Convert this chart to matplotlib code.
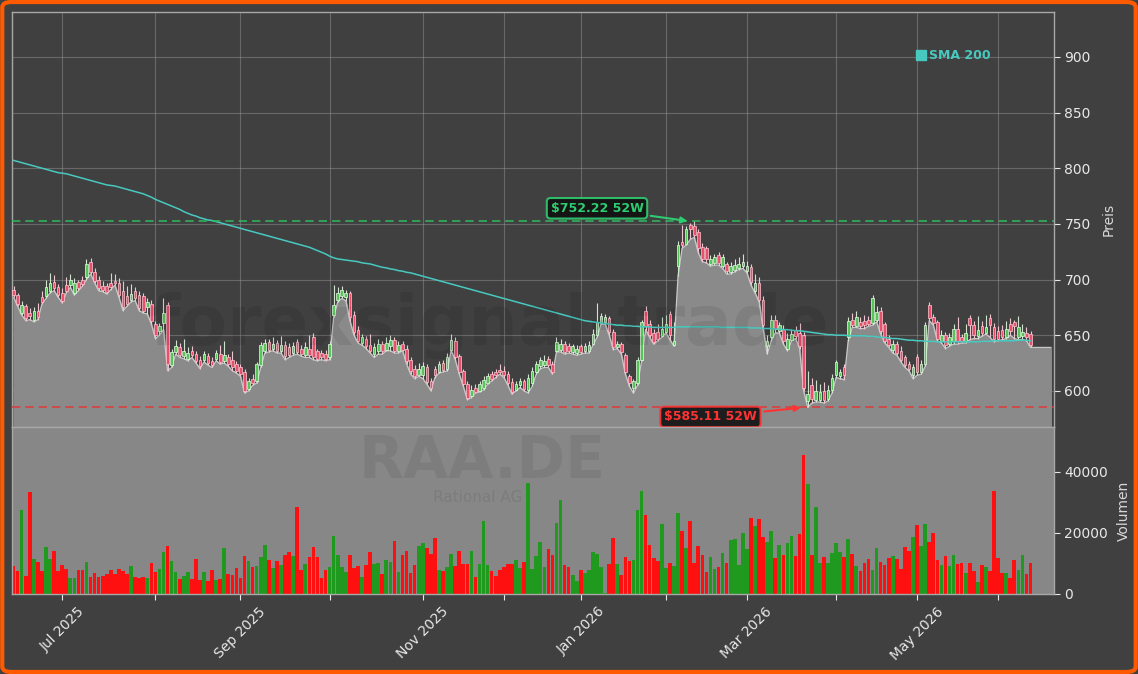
import numpy as np
import pandas as pd
import matplotlib
matplotlib.use("Agg")
import matplotlib.pyplot as plt
from matplotlib.patches import FancyBboxPatch
from matplotlib.lines import Line2D

# ---------------- data ----------------
start_date = "2025-06-13"
holidays = ["2025-12-24", "2025-12-25", "2025-12-26", "2025-12-31",
            "2026-01-01", "2026-04-03", "2026-04-06", "2026-05-01"]

opens = [691, 686, 670, 676, 670, 664, 672, 684, 685, 690,
         698, 693, 688, 695, 695, 688, 698, 700, 702, 716,
         707, 700, 694, 694, 697, 699, 697, 690, 685, 682,
         690, 686, 685, 675, 678, 660, 654, 661, 677, 623,
         635, 639, 631, 629, 636, 633, 628, 628, 631, 627,
         629, 633, 627, 630, 628, 624, 621, 617, 602, 611,
         609, 623, 636, 644, 638, 643, 636, 641, 639, 634,
         644, 638, 632, 638, 648, 636, 634, 633, 630, 668,
         682, 685, 684, 688, 668, 655, 643, 647, 641, 633,
         636, 642, 637, 640, 646, 636, 642, 638, 628, 620,
         614, 614, 621, 609, 620, 617, 625, 620, 637, 645,
         631, 618, 606, 595, 603, 600, 603, 607, 615, 617,
         619, 618, 615, 608, 601, 605, 609, 601, 607, 617,
         622, 623, 629, 624, 636, 637, 642, 640, 635, 634,
         640, 636, 636, 642, 650, 661, 662, 665, 653, 639,
         642, 632, 613, 603, 607, 628, 672, 660, 652, 653,
         649, 653, 669, 641, 712, 734, 732, 749, 748, 743,
         729, 728, 714, 715, 722, 712, 714, 707, 709, 710,
         712, 708, 711, 690, 697, 682, 640, 648, 664, 654,
         656, 638, 646, 655, 652, 650, 591, 605, 592, 592,
         600, 593, 601, 614, 613, 621, 648, 664, 658, 662,
         663, 664, 661, 664, 672, 660, 647, 637, 642, 636,
         630, 624, 614, 630, 617, 624, 677, 666, 662, 645,
         650, 642, 645, 656, 648, 645, 665, 659, 649, 658,
         652, 665, 657, 654, 655, 648, 660, 662, 648, 649,
         652, 651]

highs = [694, 688, 681, 678, 674, 675, 679, 690, 700, 706,
         704, 696, 692, 702, 705, 701, 700, 703, 718, 719,
         710, 703, 699, 697, 706, 705, 701, 699, 694, 696,
         693, 690, 688, 683, 682, 663, 661, 683, 680, 638,
         646, 643, 647, 639, 640, 636, 631, 636, 634, 630,
         637, 641, 645, 633, 636, 627, 624, 620, 612, 615,
         626, 644, 647, 647, 648, 646, 649, 645, 643, 644,
         647, 641, 644, 650, 652, 638, 637, 637, 645, 695,
         693, 694, 691, 690, 672, 658, 651, 649, 651, 643,
         647, 645, 648, 650, 648, 645, 645, 641, 630, 623,
         625, 626, 624, 612, 622, 627, 628, 634, 651, 648,
         633, 620, 609, 605, 606, 609, 613, 616, 618, 620,
         624, 622, 618, 612, 609, 612, 611, 615, 621, 627,
         630, 632, 631, 627, 648, 647, 645, 643, 642, 641,
         642, 643, 645, 656, 679, 670, 669, 667, 656, 645,
         644, 634, 615, 611, 630, 664, 676, 664, 656, 660,
         666, 668, 672, 662, 735, 749, 748, 751, 752.22, 745,
         733, 730, 722, 723, 725, 723, 716, 716, 718, 720,
         723, 717, 714, 705, 702, 685, 650, 668, 668, 662,
         659, 652, 656, 658, 661, 653, 618, 612, 610, 606,
         608, 605, 615, 628, 620, 624, 666, 670, 672, 666,
         668, 667, 686, 676, 675, 662, 650, 646, 645, 640,
         632, 627, 624, 633, 628, 662, 680, 669, 664, 655,
         653, 652, 660, 666, 651, 660, 668, 663, 667, 663,
         668, 669, 661, 658, 659, 663, 665, 664, 667, 660,
         657, 654]

lows = [684, 676, 668, 663, 664, 662, 664, 678, 683, 688,
        690, 684, 679, 688, 693, 686, 690, 694, 700, 705,
        697, 690, 689, 687, 691, 695, 684, 672, 676, 680,
        681, 672, 670, 669, 660, 647, 650, 655, 618, 621,
        633, 630, 629, 627, 630, 625, 620, 626, 623, 621,
        627, 624, 625, 622, 618, 616, 613, 598, 600, 605,
        607, 621, 634, 635, 636, 634, 634, 628, 630, 632,
        633, 631, 630, 630, 628, 627, 628, 627, 628, 666,
        680, 683, 681, 663, 650, 643, 641, 638, 634, 630,
        633, 633, 636, 636, 634, 634, 636, 624, 615, 611,
        613, 611, 606, 600, 612, 616, 617, 618, 636, 628,
        615, 604, 592, 594, 598, 599, 601, 606, 609, 612,
        615, 612, 605, 597, 600, 603, 600, 598, 604, 615,
        620, 621, 621, 615, 635, 635, 633, 634, 633, 632,
        633, 634, 634, 641, 648, 660, 660, 650, 637, 638,
        633, 615, 604, 598, 605, 627, 655, 648, 642, 645,
        648, 652, 646, 640, 703, 728, 731, 736, 738, 724,
        716, 715, 712, 713, 713, 710, 705, 705, 707, 709,
        710, 706, 695, 688, 680, 656, 633, 645, 652, 652,
        642, 636, 645, 647, 638, 600, 585.11, 589, 590, 590,
        589, 591, 598, 612, 611, 610, 645, 657, 657, 656,
        656, 658, 659, 662, 651, 643, 639, 634, 632, 626,
        621, 618, 611, 614, 615, 622, 663, 659, 645, 643,
        638, 640, 642, 642, 643, 643, 646, 647, 647, 649,
        651, 648, 644, 645, 646, 647, 650, 647, 646, 646,
        645, 639]

closes = [686, 678, 677, 665, 667, 672, 666, 680, 693, 697,
          692, 686, 681, 690, 700, 697, 692, 696, 714, 707,
          699, 692, 691, 689, 693, 697, 686, 675, 678, 687,
          683, 674, 672, 680, 663, 650, 658, 670, 624, 635,
          640, 632, 636, 634, 632, 627, 622, 633, 625, 623,
          634, 626, 632, 624, 621, 618, 615, 600, 609, 607,
          624, 641, 643, 637, 642, 636, 641, 631, 632, 640,
          635, 633, 639, 632, 630, 629, 630, 629, 642, 677,
          688, 691, 688, 666, 653, 645, 648, 640, 636, 639,
          642, 636, 643, 646, 636, 641, 637, 627, 618, 613,
          620, 622, 608, 603, 614, 624, 619, 630, 646, 630,
          617, 606, 594, 601, 599, 606, 610, 613, 611, 614,
          617, 614, 607, 599, 606, 609, 602, 612, 618, 624,
          628, 627, 623, 617, 644, 642, 635, 636, 640, 638,
          635, 640, 641, 651, 662, 667, 666, 653, 639, 642,
          635, 617, 607, 609, 628, 662, 658, 650, 644, 647,
          656, 660, 650, 645, 731, 731, 745, 745, 740, 728,
          718, 718, 718, 720, 715, 720, 708, 712, 713, 714,
          716, 712, 698, 697, 682, 659, 645, 664, 656, 659,
          645, 647, 651, 649, 640, 603, 597, 593, 600, 599,
          592, 601, 612, 626, 617, 614, 663, 659, 666, 658,
          659, 660, 683, 671, 654, 645, 641, 642, 634, 628,
          623, 620, 621, 617, 624, 659, 665, 661, 647, 650,
          641, 648, 656, 645, 645, 652, 659, 650, 655, 652,
          657, 659, 647, 647, 648, 656, 654, 658, 657, 653,
          648, 641]

volume = [9100, 7500, 27600, 5900, 33500, 11400, 10400, 7500, 15300, 11400, 14000, 7500, 9400, 8100, 5100,
          5100, 7800, 7800, 10400, 5600, 6800, 5400, 5900, 6500, 7800, 6500, 8100, 7500, 6500, 9100,
          5500, 5100, 5400, 5100, 10100, 7200, 8100, 13700, 15600, 10700, 7200, 4800, 5900, 7200, 4800,
          11400, 4600, 7200, 4200, 7800, 4600, 4800, 15000, 6500, 6200, 8400, 5200, 12400, 10700, 8800,
          9100, 12000, 16000, 11100, 8400, 10700, 9400, 12700, 13700, 12400, 28300, 7800, 9700, 12000, 15300,
          12000, 5200, 7800, 8800, 18900, 12700, 8800, 7200, 12700, 8400, 9100, 5500, 9400, 13800, 9700,
          10100, 6500, 11100, 10400, 17200, 7200, 12700, 14000, 6800, 9400, 15600, 16600, 15000, 13000, 18200,
          7800, 7500, 8800, 13000, 9100, 14000, 9700, 9700, 14000, 5500, 9700, 23700, 9400, 7500, 5900,
          7800, 8800, 9700, 9700, 11100, 8400, 10400, 36400, 8100, 12400, 16900, 8800, 14700, 12700, 23100,
          30600, 9400, 8800, 6200, 4200, 7800, 6800, 7800, 13700, 13000, 8800, 300, 9700, 18200, 9700,
          6200, 12000, 10700, 11100, 27300, 33800, 25700, 16000, 11700, 10700, 22800, 8400, 10100, 9100, 26500,
          20500, 15000, 24000, 10100, 15600, 12700, 7200, 12000, 8100, 8800, 13400, 10100, 17600, 18000, 9400,
          19800, 14700, 24700, 22300, 24400, 18500, 16900, 20500, 11700, 16000, 12700, 16600, 18900, 12400, 19500,
          45500, 36100, 12700, 28300, 10100, 12000, 10100, 13400, 16600, 13700, 12000, 17900, 13000, 9100, 7500,
          10100, 11400, 7800, 15000, 10400, 9400, 11700, 12400, 11400, 8100, 15300, 14000, 18500, 22400, 15600,
          22800, 16900, 20100, 11100, 9400, 12400, 9100, 12700, 9700, 10100, 6800, 10100, 7500, 3900, 9400,
          8800, 7500, 33800, 11700, 6800, 6800, 5200, 11100, 7800, 12700, 6500, 10100]

sma200 = [807, 806, 805, 804, 803, 802, 801, 800, 799, 798, 797, 796, 795.5, 795, 794, 793, 792, 791, 790, 789,
          788, 787, 786, 785, 784.5, 784, 783, 782, 781, 780, 779, 778, 777, 775.5, 774, 772, 770.5, 769, 767.5, 766,
          764.5, 763, 761, 759.5, 758, 757, 755.5, 754.5, 753.5, 753, 752, 751, 750, 749, 748, 747, 746, 745, 744, 743,
          742, 741, 740, 739, 738, 737, 736, 735, 734, 733, 732, 731, 730, 729, 727.5, 726, 724.5, 723, 721, 719.5,
          718.5, 718, 717.5, 717, 716.5, 716, 715, 714.5, 714, 713, 712, 711, 710.5, 709.5, 709, 708, 707.5, 706.5, 706, 705,
          704, 703, 702, 701, 700, 699, 698, 697, 696, 695, 694, 693, 692, 691, 690, 689, 688, 687, 686, 685,
          684, 683, 682, 681, 680, 679, 678, 677, 676, 675, 674, 673, 672, 671, 670, 669, 668, 667, 666, 665,
          664, 663, 662.5, 662, 661.5, 661, 660.5, 660, 659.5, 659, 659, 658.5, 658.5, 658, 658, 657.5, 657.5, 657.5, 657, 657,
          657, 657, 657, 657, 657.5, 657.5, 657.5, 657.5, 657.5, 657.5, 657.5, 657.5, 657.5, 657.5, 657.5, 657, 657, 657, 657, 657,
          657, 657, 656.5, 656.5, 656.5, 656, 656, 656, 655.5, 655.5, 655, 655, 654.5, 654, 654, 653.5, 653, 652.5, 652, 651.5,
          651, 650.5, 650.5, 650, 650, 650, 649.5, 649.5, 649.5, 649.5, 649.5, 649, 649, 648.5, 648, 648, 647.5, 647, 647, 646.5,
          646, 645.5, 645.5, 645, 645, 644.5, 644.5, 644.5, 644, 644, 644, 644, 644, 644, 644, 644, 644, 644, 644, 644.5,
          644.5, 644.5, 645, 645, 645, 645, 645, 645, 645.5, 645.5, 645.5, 645]

high_52w = 752.22
low_52w = 585.11
ticker = "RAA.DE"
company = "Rational AG"

# ---------------- prepare ----------------
N = min(len(opens), len(highs), len(lows), len(closes), len(volume))
dates = pd.bdate_range(start_date, periods=N + 20)
dates = dates[~dates.isin(pd.to_datetime(holidays))][:N]
x = np.arange(N)
op = np.array(opens[:N], float)
hi = np.array(highs[:N], float)
lo = np.array(lows[:N], float)
cl = np.array(closes[:N], float)
vol = np.array(volume[:N], float)
up = cl >= op

# ---------------- figure ----------------
BG = "#404040"
fig = plt.figure(figsize=(11.38, 6.74), dpi=100, facecolor=BG)
ax = fig.add_axes([0.0105, 0.3665, 0.9157, 0.6157])
axv = fig.add_axes([0.0105, 0.1187, 0.9157, 0.2478], sharex=ax)

ax.set_facecolor(BG)
axv.set_facecolor("#878787")

# area under the lows
xf = np.append(x, [N, N + 1, N + 2, N + 3, N + 4])
yf = np.append(lo, [lo[-1]] * 5)
ax.fill_between(xf, yf, 500, color="#8a8a8a", zorder=1)
ax.plot(xf, yf, color="#c8c8c8", lw=0.9, zorder=1.5)

# candles
ax.vlines(x[up], lo[up], hi[up], color="#cfe3cf", lw=0.8, zorder=2)
ax.vlines(x[~up], lo[~up], hi[~up], color="#efc6cf", lw=0.8, zorder=2)
ax.bar(x[up], (cl - op)[up], bottom=op[up], width=0.65, color="#58c458",
       edgecolor="#e8ffe8", lw=0.5, zorder=3)
ax.bar(x[~up], (op - cl)[~up], bottom=cl[~up], width=0.65, color="#e8506e",
       edgecolor="#ffc8d2", lw=0.5, zorder=3)

# SMA
ns = min(len(sma200), N)
ax.plot(x[:ns], sma200[:ns], color="#48c9c0", lw=1.1, zorder=4)

# 52w lines
ax.axhline(high_52w, color="#2ebd5f", ls=(0, (5, 3)), lw=1.2, alpha=0.9, zorder=4)
ax.axhline(low_52w, color="#e03a3a", ls=(0, (5, 3)), lw=1.2, alpha=0.9, zorder=4)

ih = int(np.argmax(hi))
il = int(np.argmin(lo))
ax.annotate(f"${high_52w:.2f} 52W", xy=(ih - 1, high_52w), xytext=(144, 764),
            color="#2ecc71", fontsize=9, fontweight="bold", ha="center", va="center",
            bbox=dict(boxstyle="round,pad=0.3", fc="#111111", ec="#2ecc71", lw=1.5, alpha=0.9),
            arrowprops=dict(arrowstyle="-|>", color="#2ecc71", lw=1.5), zorder=6)
ax.annotate(f"${low_52w:.2f} 52W", xy=(il - 1, low_52w), xytext=(172, 576.6),
            color="#ff3333", fontsize=9, fontweight="bold", ha="center", va="center",
            bbox=dict(boxstyle="round,pad=0.3", fc="#111111", ec="#ff3333", lw=1.5, alpha=0.9),
            arrowprops=dict(arrowstyle="-|>", color="#ff3333", lw=1.5), zorder=6)

# volume
vcol = np.where(up, "#1f9a1f", "#ff1010")
axv.bar(x, vol, width=0.9, color=vcol, zorder=2)

# watermarks
fig.text(0.43, 0.518, "forexsignal-trade", fontsize=50, fontweight="bold", color="black",
         alpha=0.08, ha="center", va="center", zorder=0)
fig.text(0.424, 0.315, ticker, fontsize=42, fontweight="bold", color="black",
         alpha=0.07, ha="center", va="center")
fig.text(0.42, 0.262, company, fontsize=11, color="black", alpha=0.08, ha="center", va="center")

# axes formatting
ax.set_xlim(-0.4, 256.8)
ax.set_ylim(567.56, 940.3)
axv.set_ylim(0, 54600)
ax.set_yticks([600, 650, 700, 750, 800, 850, 900])
axv.set_yticks([0, 20000, 40000])

month_first = []
seen = set()
for i, d in enumerate(dates):
    key = (d.year, d.month)
    if key not in seen:
        seen.add(key)
        if i > 0:
            month_first.append(i)
labels = [dates[i].strftime("%b %Y") if dates[i].month % 2 == 1 else "" for i in month_first]
axv.set_xticks(month_first)
axv.set_xticklabels(labels, rotation=45, ha="center")
plt.setp(ax.get_xticklabels(), visible=False)

for a in (ax, axv):
    a.yaxis.tick_right()
    a.yaxis.set_label_position("right")
    a.tick_params(colors="#e8e8e8", labelsize=10, length=4)
    for s in a.spines.values():
        s.set_color("#a8a8a8")
        s.set_linewidth(1)
ax.tick_params(axis="x", length=0)
ax.grid(True, color="#9a9a9a", alpha=0.45, lw=0.8)
ax.set_axisbelow(True)
ax.set_ylabel("Preis", color="#d8d8d8", fontsize=10, labelpad=8)
axv.set_ylabel("Volumen", color="#d8d8d8", fontsize=10, labelpad=6)

leg = ax.legend([Line2D([], [], ls="", marker="s", color="#48c9c0", markersize=7)], ["SMA 200"],
                loc="upper left", bbox_to_anchor=(0.858, 0.937), frameon=False, handlelength=0.6,
                handletextpad=0.3, prop=dict(weight="bold", size=9))
for t in leg.get_texts():
    t.set_color("#48c9c0")

fig.patches.append(FancyBboxPatch((0.002, 0.003), 0.996, 0.994, boxstyle="round,pad=0,rounding_size=0.008",
                                  transform=fig.transFigure, fc="none", ec="#ff5a00", lw=3, zorder=10))

fig.savefig("out.png", dpi=100, facecolor=BG)
